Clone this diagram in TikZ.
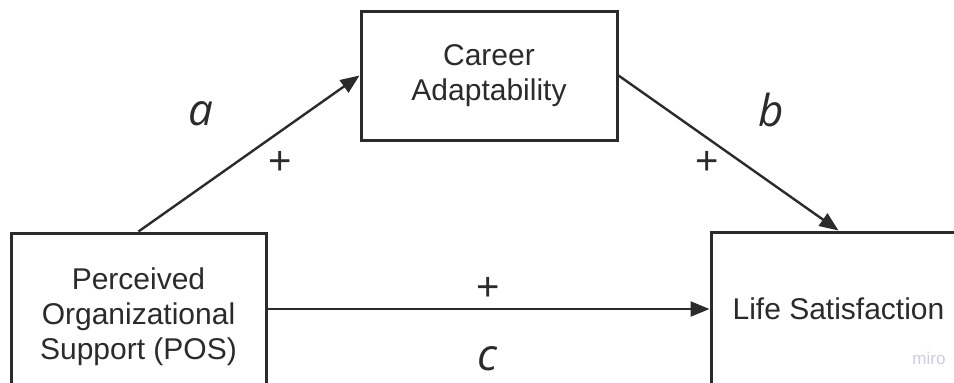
\documentclass[tikz,border=0pt]{standalone}
\usepackage{fontspec}
\setmainfont{Liberation Sans}
\newfontfamily\letterfont{Open Sans}
\usetikzlibrary{arrows.meta}
\definecolor{ink}{HTML}{2B2B2B}
\definecolor{wm}{HTML}{CFCBDD}
\tikzset{
  boxnode/.style={draw=ink, line width=3pt, fill=white, text=ink, align=center,
    font=\fontsize{30}{35}\selectfont, inner sep=0pt},
  arrowline/.style={draw=ink, line width=2.4pt, -{Triangle[length=19pt,width=15pt]}},
  plus/.style={text=ink, font=\fontsize{40}{44}\selectfont, inner sep=0pt},
  letter/.style={text=ink, font=\letterfont\itshape\fontsize{44}{50}\selectfont, inner sep=0pt},
}
\begin{document}
\begin{tikzpicture}[x=1pt,y=-1pt]
\useasboundingbox (0,0) rectangle (954,383);
\clip (0,0) rectangle (954,383);
\node[boxnode, minimum width=255pt, minimum height=168pt] (P) at (138.5,317)
  {Perceived\\Organizational\\Support (POS)};
\node[boxnode, minimum width=256pt, minimum height=129pt] (C) at (489,75.5)
  {Career\\Adaptability};
\node[boxnode, minimum width=255pt, minimum height=154pt] (S) at (838.5,309)
  {Life Satisfaction};
\draw[arrowline] (P.north) -- (C.west);
\draw[arrowline] (C.east) -- (S.north);
\draw[arrowline] (P.east |- S.west) -- (S.west);
\node[letter] (la) at (201,114) {a};
\node[letter] (lb) at (771.5,109.5) {b};
\node[letter] (lc) at (487,358.5) {c};
\node[plus] (pa) at (280,163) {+};
\node[plus] (pb) at (707,163) {+};
\node[plus] (pc) at (488.5,288.5) {+};
\node[text=wm, font=\fontsize{17}{20}\selectfont, inner sep=0pt] (wmk) at (929,358) {miro};
\end{tikzpicture}
\end{document}
